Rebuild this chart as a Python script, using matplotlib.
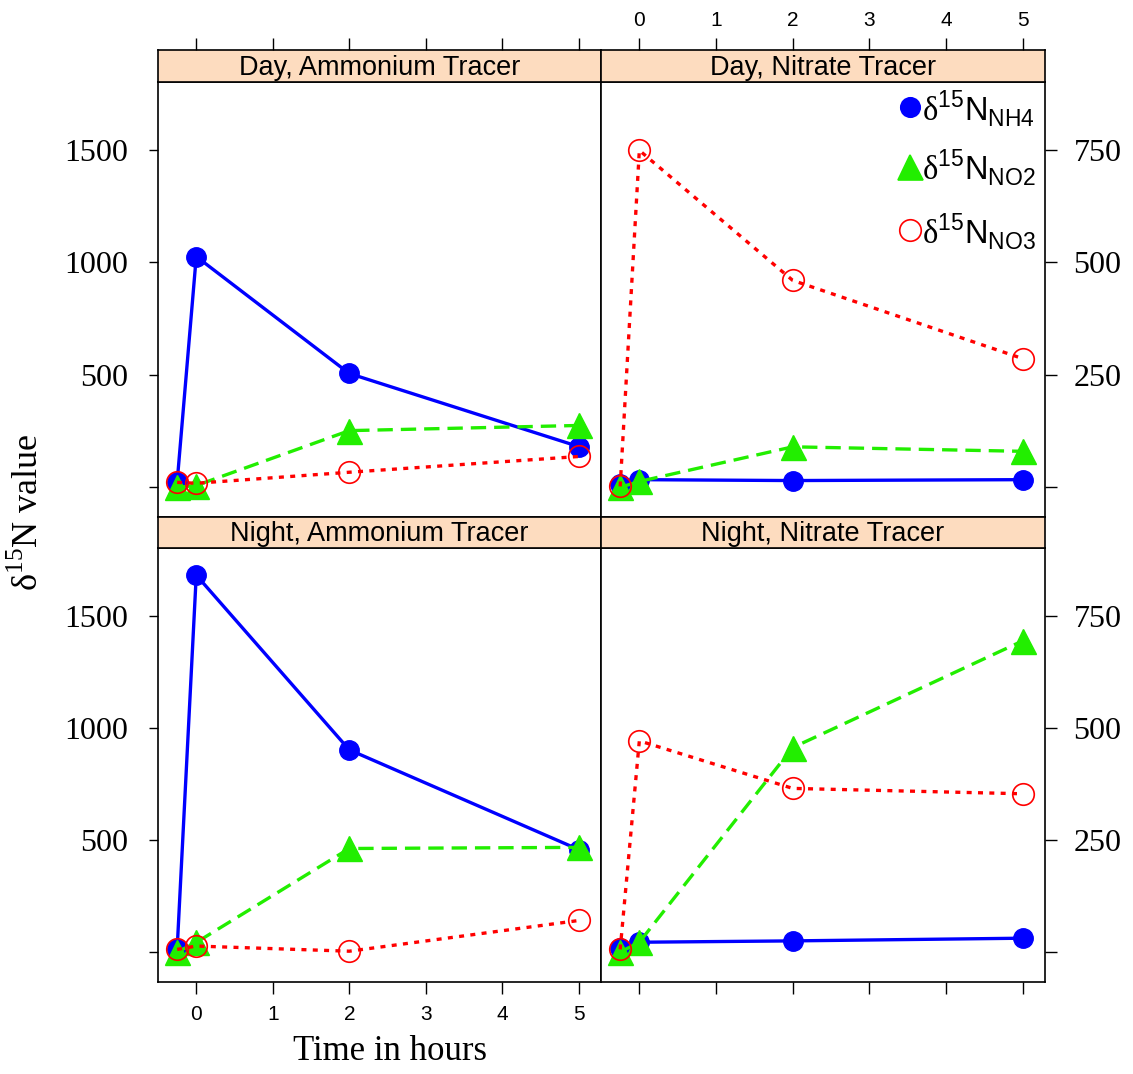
import matplotlib
matplotlib.use("Agg")
import matplotlib.pyplot as plt

plt.rcParams["font.family"] = "Liberation Sans"
plt.rcParams["mathtext.fontset"] = "custom"
plt.rcParams["mathtext.rm"] = "Liberation Serif"
plt.rcParams["mathtext.sf"] = "Liberation Sans"

# datos (horas de muestreo)
hours = [-0.25, 0, 2, 5]
panel_titles = ["Day, Ammonium Tracer", "Day, Nitrate Tracer",
                "Night, Ammonium Tracer", "Night, Nitrate Tracer"]

day_amm_nh4 = [22, 1026, 506, 181]
day_amm_no2 = [0, 8, 252, 275]
day_amm_no3 = [22, 18, 67, 137]

day_nit_nh4 = [8, 17, 15, 17]
day_nit_no2 = [0, 13, 90, 80]
day_nit_no3 = [2, 749, 460, 286]

night_amm_nh4 = [12, 1681, 902, 457]
night_amm_no2 = [0, 43, 462, 467]
night_amm_no3 = [12, 27, 4, 141]

night_nit_nh4 = [10, 22, 25, 31]
night_nit_no2 = [0, 22, 456, 694]
night_nit_no3 = [6, 471, 365, 353]

x_ticks = [0, 1, 2, 3, 4, 5]
left_ticks = [0, 500, 1000, 1500]
left_labels = ["", "500", "1000", "1500"]
right_ticks = [0, 250, 500, 750]
right_labels = ["", "250", "500", "750"]

series = [
    (day_amm_nh4, day_amm_no2, day_amm_no3),
    (day_nit_nh4, day_nit_no2, day_nit_no3),
    (night_amm_nh4, night_amm_no2, night_amm_no3),
    (night_nit_nh4, night_nit_no2, night_nit_no3),
]

BLUE, GREEN, RED = "#0000ff", "#22ee00", "#ff0000"
STRIP = "#fddcbf"
W, H = 1133, 1074


def caja(x0, y0, x1, y1):
    return [x0 / W, 1 - y1 / H, (x1 - x0) / W, (y1 - y0) / H]


fig = plt.figure(figsize=(W / 100, H / 100), dpi=100)
cols = [(158, 601), (601, 1045)]
rows = [(50, 82, 517), (517, 548, 981.7)]
xlim = (-0.5, 5.29)

for i, titulo in enumerate(panel_titles):
    r, c = divmod(i, 2)
    x0, x1 = cols[c]
    st, pt, pb = rows[r]
    ax = fig.add_axes(caja(x0, pt, x1, pb))
    sx = fig.add_axes(caja(x0, st, x1, pt))

    nh4, no2, no3 = series[i]
    ax.plot(hours, nh4, color=BLUE, lw=2.4, marker="o", ms=14,
            mec=BLUE, mfc=BLUE)
    ax.plot(hours, no2, color=GREEN, lw=2.4, dashes=(4.6, 2.4),
            marker="^", ms=18, mec=GREEN, mfc=GREEN)
    ax.plot(hours, no3, color=RED, lw=2.4, dashes=(1.5, 1.9),
            marker="o", ms=15.5, mfc="none", mec=RED, mew=1.2)

    ax.set_xlim(*xlim)
    sx.set_xlim(*xlim)
    sx.set_ylim(0, 1)
    sx.set_facecolor(STRIP)
    sx.set_yticks([])
    sx.text(0.5, 0.45, titulo, transform=sx.transAxes, ha="center",
            va="center", fontsize=19.5)

    for a in (ax, sx):
        for s in a.spines.values():
            s.set_linewidth(1.2)
            s.set_color("black")

    if c == 0:
        ax.set_ylim(-132, 1802)
        ax.set_yticks(left_ticks)
        ax.set_yticklabels(left_labels, fontfamily="Liberation Serif",
                           fontsize=23)
        ax.tick_params(axis="y", left=True, right=False, labelleft=True,
                       labelright=False, length=6.5, width=1, pad=15)
    else:
        ax.set_ylim(-66, 901)
        ax.set_yticks(right_ticks)
        ax.set_yticklabels(right_labels, fontfamily="Liberation Serif",
                           fontsize=23)
        ax.tick_params(axis="y", left=False, right=True, labelleft=False,
                       labelright=True, length=8.6, width=1, pad=12)

    ax.set_xticks(x_ticks)
    sx.set_xticks(x_ticks)
    if r == 0:
        ax.tick_params(axis="x", bottom=False, labelbottom=False)
        sx.tick_params(axis="x", bottom=False, labelbottom=False, top=True,
                       labeltop=(c == 1), length=8.6, width=1, pad=6,
                       labelsize=15)
    else:
        sx.tick_params(axis="x", bottom=False, labelbottom=False)
        ax.tick_params(axis="x", bottom=True, labelbottom=(c == 0),
                       length=8.6, width=1, pad=8, labelsize=15)

    if i == 1:
        leyenda = [
            ("o", BLUE, BLUE, 14, r"$\mathrm{δ}^{\mathsf{15}}\mathsf{N}_{\mathsf{NH4}}$", 0.943, 0.912),
            ("^", GREEN, GREEN, 18, r"$\mathrm{δ}^{\mathsf{15}}\mathsf{N}_{\mathsf{NO2}}$", 0.805, 0.775),
            ("o", "none", RED, 15.5, r"$\mathrm{δ}^{\mathsf{15}}\mathsf{N}_{\mathsf{NO3}}$", 0.660, 0.630),
        ]
        for mk, fc, ec, ms, txt, ym, yt in leyenda:
            ax.plot([0.696], [ym], transform=ax.transAxes, marker=mk, ms=ms,
                    mfc=fc, mec=ec, mew=1.2, ls="none", clip_on=False)
            ax.text(0.722, yt, txt, transform=ax.transAxes, fontsize=23.5,
                    ha="left", va="baseline")

fig.text(28 / W, 1 - 512 / H, r"$\mathrm{δ}^{\mathrm{15}}$N value",
         rotation=90, ha="center", va="center", fontsize=26,
         fontfamily="Liberation Serif")
fig.text(390 / W, 1 - 1052 / H, "Time in hours", ha="center", va="center",
         fontsize=25, fontfamily="Liberation Serif")

fig.savefig("out.png", dpi=100)
